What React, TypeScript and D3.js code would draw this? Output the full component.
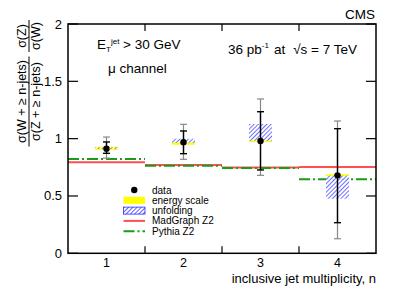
import React from 'react';
import * as d3 from 'd3';

const W = 399;
const H = 293;

// per-bin values
const bins = [1, 2, 3, 4];
const dataVal = [0.912, 0.968, 0.979, 0.68];
const statLo = [0.872, 0.869, 0.727, 0.267];
const statHi = [0.971, 1.067, 1.235, 1.087];
const totLo = [0.83, 0.82, 0.68, 0.127];
const totHi = [1.014, 1.125, 1.346, 1.154];
const escaleLo = [0.9, 0.947, 0.97, 0.665];
const escaleHi = [0.93, 0.968, 0.985, 0.69];
const unfoldLo = [0.91, 0.965, 0.982, 0.476];
const unfoldHi = [0.925, 1.0, 1.128, 0.677];
const madgraph = [0.794, 0.77, 0.748, 0.753];
const pythia = [0.822, 0.764, 0.745, 0.645];

const yTicks = [0, 0.5, 1, 1.5, 2];
const xEdges = [1.5, 2.5, 3.5];

const FONT = '"Liberation Sans", Arial, Helvetica, sans-serif';
const RED = '#ff4f4f';
const GREEN = '#179d17';
const YELLOW = '#ffff00';
const BLUE = '#2b2bff';

const App = () => {
  const left = 68, right = 376, top = 24, bottom = 253.3;

  const x = d3.scaleLinear().domain([0.5, 4.5]).range([left, right]);
  const y = d3.scaleLinear().domain([0, 2]).range([bottom, top]);

  const halfBox = 0.15;
  const cap = 3.5;

  const hline = (v: number, b: number) =>
    d3.line()([[x(b - 0.5), y(v)], [x(b + 0.5), y(v)]]) as string;

  const legendY = [190, 200.3, 210.6, 220.9, 231.2];
  const lx0 = 123.5, lx1 = 145;

  return (
    <svg width={W} height={H} style={{ position: 'absolute', left: 0, top: 0, background: '#fff' }}
      fontFamily={FONT}>
      <defs>
        <pattern id='hatch' width='3' height='3' patternUnits='userSpaceOnUse' patternTransform='rotate(45)'>
          <rect width='3' height='3' fill='#fff' />
          <line x1='0' y1='0' x2='0' y2='3' stroke={BLUE} strokeWidth='1.5' />
        </pattern>
      </defs>

      {/* model predictions */}
      {bins.map((b, i) => (
        <g key={'m' + b}>
          <path d={hline(madgraph[i], b)} stroke={RED} strokeWidth={2} fill='none' />
          <path d={hline(pythia[i], b)} stroke={GREEN} strokeWidth={2} fill='none'
            strokeDasharray='11,3,2,3' />
        </g>
      ))}

      {/* systematic boxes */}
      {bins.map((b, i) => (
        <g key={'s' + b}>
          <rect x={x(b - halfBox)} width={x(b + halfBox) - x(b - halfBox)}
            y={y(escaleHi[i])} height={y(escaleLo[i]) - y(escaleHi[i])} fill={YELLOW} />
          <rect x={x(b - halfBox)} width={x(b + halfBox) - x(b - halfBox)}
            y={y(unfoldHi[i])} height={y(unfoldLo[i]) - y(unfoldHi[i])} fill='url(#hatch)' opacity={0.9} />
        </g>
      ))}

      {/* error bars and points */}
      {bins.map((b, i) => {
        const cx = x(b);
        return (
          <g key={'d' + b}>
            <line x1={cx} x2={cx} y1={y(totHi[i])} y2={y(totLo[i])} stroke='#888' strokeWidth={1.2} />
            <line x1={cx - cap} x2={cx + cap} y1={y(totHi[i])} y2={y(totHi[i])} stroke='#888' strokeWidth={1.2} />
            <line x1={cx - cap} x2={cx + cap} y1={y(totLo[i])} y2={y(totLo[i])} stroke='#888' strokeWidth={1.2} />
            <line x1={cx} x2={cx} y1={y(statHi[i])} y2={y(statLo[i])} stroke='#000' strokeWidth={1.4} />
            <line x1={cx - cap} x2={cx + cap} y1={y(statHi[i])} y2={y(statHi[i])} stroke='#000' strokeWidth={1.4} />
            <line x1={cx - cap} x2={cx + cap} y1={y(statLo[i])} y2={y(statLo[i])} stroke='#000' strokeWidth={1.4} />
            <circle cx={cx} cy={y(dataVal[i])} r={3.2} fill='#000' />
          </g>
        );
      })}

      {/* frame and ticks */}
      <rect x={left} y={top} width={right - left} height={bottom - top} fill='none' stroke='#000' strokeWidth={1.5} />
      {yTicks.map(t => (
        <g key={'yt' + t}>
          <line x1={left} x2={left + 10} y1={y(t)} y2={y(t)} stroke='#000' strokeWidth={1.2} />
          <line x1={right - 10} x2={right} y1={y(t)} y2={y(t)} stroke='#000' strokeWidth={1.2} />
          <text x={62} y={y(t) + 4.5} textAnchor='end' fontSize={13}>{t}</text>
        </g>
      ))}
      {xEdges.map(t => (
        <g key={'xt' + t}>
          <line x1={x(t)} x2={x(t)} y1={bottom} y2={bottom - 7} stroke='#000' strokeWidth={1.2} />
          <line x1={x(t)} x2={x(t)} y1={top} y2={top + 7} stroke='#000' strokeWidth={1.2} />
        </g>
      ))}
      {bins.map(b => (
        <text key={'xl' + b} x={x(b)} y={267} textAnchor='middle' fontSize={12.5}>{b}</text>
      ))}

      <text x={right} y={282.5} textAnchor='end' fontSize={13}>inclusive jet multiplicity, n</text>

      {/* y-axis label as two fractions */}
      <g fontSize={12.5}>
        <g transform='translate(0,101.5) rotate(-90)'>
          <text x={0} y={26} textAnchor='middle'>σ(W + ≥ n-jets)</text>
          <line x1={-45} x2={45} y1={29} y2={29} stroke='#000' strokeWidth={1} />
          <text x={0} y={39.5} textAnchor='middle'>σ(Z + ≥ n-jets)</text>
        </g>
        <g transform='translate(0,36) rotate(-90)'>
          <text x={0} y={26} textAnchor='middle'>σ(Z)</text>
          <line x1={-16} x2={16} y1={29} y2={29} stroke='#000' strokeWidth={1} />
          <text x={0} y={39.5} textAnchor='middle'>σ(W)</text>
        </g>
      </g>

      {/* annotations */}
      <text x={375} y={18.5} textAnchor='end' fontSize={13.5}>CMS</text>
      <text x={97} y={49} fontSize={13.5}>
        E<tspan fontSize={8} dy={3}>T</tspan><tspan fontSize={8} dy={-8}>jet</tspan>
        <tspan dy={5}> &gt; 30 GeV</tspan>
      </text>
      <text x={108} y={72.5} fontSize={13.5}>μ channel</text>
      <text x={228} y={54} fontSize={13.5}>
        36 pb<tspan fontSize={8} dy={-6}>-1</tspan>
        <tspan dy={6} dx={5}>at</tspan>
        <tspan dx={8}>√s = 7 TeV</tspan>
      </text>

      {/* legend */}
      <g fontSize={10}>
        <circle cx={(lx0 + lx1) / 2} cy={legendY[0]} r={3.2} fill='#000' />
        <text x={152} y={legendY[0] + 3.5}>data</text>
        <rect x={lx0} y={legendY[1] - 3.5} width={lx1 - lx0} height={7} fill={YELLOW} />
        <text x={152} y={legendY[1] + 3.5}>energy scale</text>
        <rect x={lx0} y={legendY[2] - 3.5} width={lx1 - lx0} height={7} fill='url(#hatch)' stroke={BLUE} strokeWidth={0.8} />
        <text x={152} y={legendY[2] + 3.5}>unfolding</text>
        <line x1={lx0} x2={lx1} y1={legendY[3]} y2={legendY[3]} stroke={RED} strokeWidth={2} />
        <text x={152} y={legendY[3] + 3.5}>MadGraph Z2</text>
        <line x1={lx0} x2={lx1} y1={legendY[4]} y2={legendY[4]} stroke={GREEN} strokeWidth={2} strokeDasharray='11,3,2,3' />
        <text x={152} y={legendY[4] + 3.5}>Pythia Z2</text>
      </g>
    </svg>
  );
};

export default App;
